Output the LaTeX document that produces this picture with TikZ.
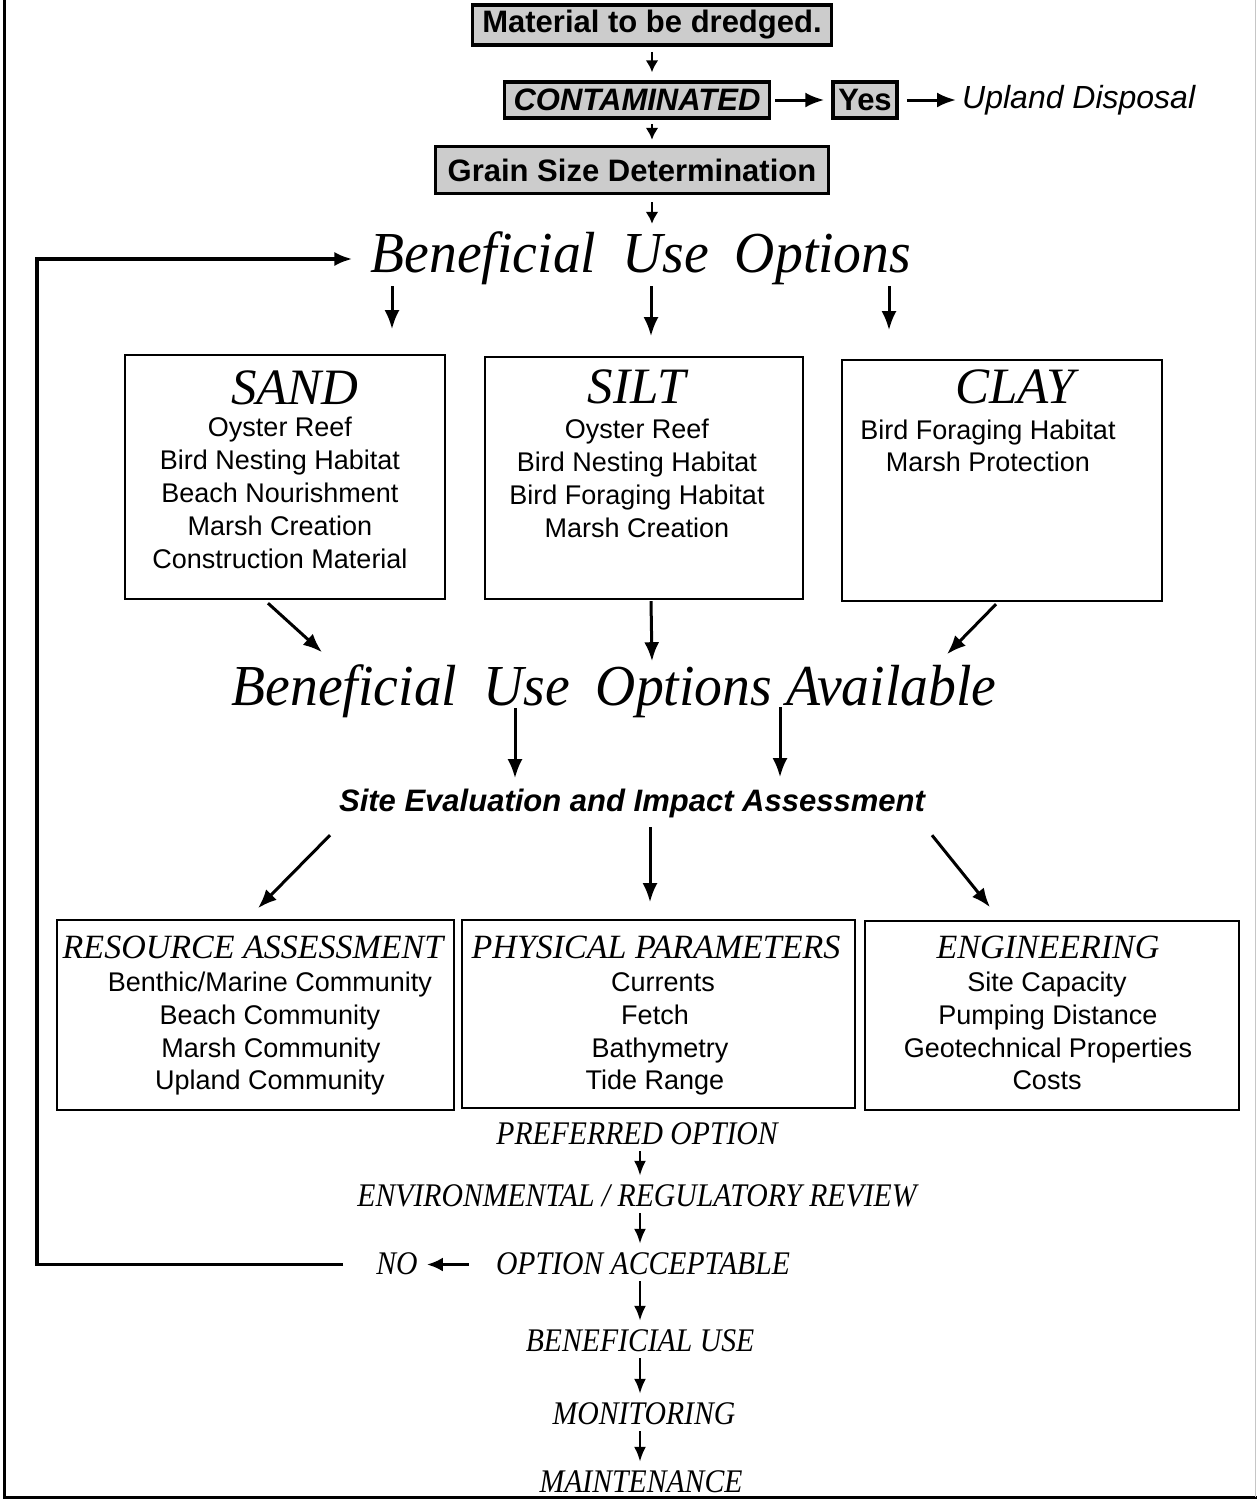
\documentclass[tikz,border=0pt]{standalone}
\usepackage{fontspec}
\setmainfont{Liberation Sans}
\newfontfamily\tserif{Liberation Serif}
\newfontfamily\cserif[FakeStretch=0.9]{Liberation Serif}
\newfontfamily\hserif[FakeStretch=0.96]{Liberation Serif}
\usetikzlibrary{arrows.meta}
\begin{document}
\begin{tikzpicture}[x=1pt,y=-1pt,
 arr/.style={line width=3pt, -{Latex[length=19pt,width=15pt]}},
 sarr/.style={line width=2.6pt, -{Latex[length=12pt,width=13pt]}},
 carr/.style={line width=2.6pt, -{Latex[length=15pt,width=12pt]}, shorten <=3pt, shorten >=7pt},
 shadebox/.style={draw, line width=3.5pt, fill=gray!40, inner sep=2pt, font=\fontsize{31}{33}\selectfont\bfseries},
 box/.style={draw, line width=2.4pt, inner sep=0pt},
 item/.style={anchor=base, inner sep=0pt, font=\fontsize{27}{33}\selectfont},
 bigt/.style={anchor=base, inner sep=0pt, font=\fontsize{51}{56}\selectfont\tserif\itshape},
 subt/.style={anchor=base, inner sep=0pt, font=\fontsize{34}{40}\selectfont\tserif\itshape},
 head/.style={anchor=base, inner sep=0pt, font=\fontsize{58}{60}\selectfont\hserif\itshape, text height=40pt, text depth=14pt},
 chain/.style={anchor=base, inner sep=0pt, font=\fontsize{33}{36}\selectfont\cserif\itshape, text height=23pt, text depth=4pt},
]
\useasboundingbox (0,0) rectangle (1257,1500);
% frame
\draw[line width=3pt] (4,0) -- (4,1497) -- (1257,1497);
\draw[gray!45, line width=1pt] (1255,0) -- (1255,1497);

% top
\node[shadebox, minimum width=359pt, minimum height=40pt] (mat) at (652,25) {Material to be dredged.};
\node[shadebox, minimum width=265pt, minimum height=36pt, font=\fontsize{31}{33}\selectfont\bfseries\itshape] (cont) at (637,100) {CONTAMINATED};
\node[shadebox, minimum width=64pt, minimum height=36pt] (yes) at (865,100) {Yes};
\node[anchor=west, inner sep=0pt, font=\fontsize{32}{34}\selectfont\itshape] (upl) at (962,100) {Upland Disposal};
\node[shadebox, minimum width=393pt, minimum height=47pt] (grain) at (632,170) {Grain Size Determination};

\draw[sarr, shorten <=5pt, shorten >=8pt] (mat.south) -- (cont.north -| mat.south);
\draw[sarr, shorten <=4pt, shorten >=5pt] (cont.south -| mat.south) -- (grain.north -| mat.south);
\draw[arr, shorten <=4pt, shorten >=7pt] (cont.east) -- (yes.west);
\draw[arr, shorten <=8pt, shorten >=6pt] (yes.east) -- (upl.west);

% beneficial use options
\node[head] (buo) at (641,272) {Beneficial\hspace{26pt}Use\hspace{26pt}Options};
\draw[sarr, shorten <=7pt, shorten >=8pt] (grain.south -| mat.south) -- (buo.north -| mat.south);

\draw[arr] ([xshift=-249pt]buo.south) -- ++(0,43);
\draw[arr] ([xshift=10pt]buo.south) -- ++(0,50);
\draw[arr] ([xshift=248pt]buo.south) -- ++(0,44);

% material boxes
\node[box, minimum width=320pt, minimum height=244pt] (sand) at (285,477) {};
\node[box, minimum width=318pt, minimum height=242pt] (silt) at (644,478) {};
\node[box, minimum width=320pt, minimum height=241pt] (clay) at (1002,480.5) {};

\node[bigt] (sandt) at (295,404) {SAND};
\foreach \t [count=\i] in {Oyster Reef, Bird Nesting Habitat, Beach Nourishment, Marsh Creation, Construction Material}
  \node[item, name=sand\i] at (280,{436+33*(\i-1)}) {\t};
\node[bigt] (siltt) at (637,403) {SILT};
\foreach \t [count=\i] in {Oyster Reef, Bird Nesting Habitat, Bird Foraging Habitat, Marsh Creation}
  \node[item, name=silt\i] at (637,{438+33*(\i-1)}) {\t};
\node[bigt] (clayt) at (1015,403) {CLAY};
\foreach \t [count=\i] in {Bird Foraging Habitat, Marsh Protection}
  \node[item, name=clay\i] at (988,{439+32*(\i-1)}) {\t};

% beneficial use options available
\node[head] (buoa) at (614,705) {Beneficial\hspace{26pt}Use\hspace{26pt}Options Available};
\draw[arr] ([xshift=-17pt, yshift=-3pt]sand.south) -- ++(54,49);
\draw[arr] ([xshift=7pt, yshift=-1pt]silt.south) -- ++(1,60);
\draw[arr] ([xshift=-6pt, yshift=-2pt]clay.south) -- ++(-49,50);

% site evaluation
\node[anchor=base, inner sep=0pt, font=\fontsize{31}{33}\selectfont\bfseries\itshape, text height=23pt, text depth=7pt] (site) at (632,811) {Site Evaluation and Impact Assessment};
\draw[arr] ([xshift=-99pt, yshift=11pt]buoa.south) -- ++(0,70);
\draw[arr] ([xshift=166pt, yshift=12pt]buoa.south) -- ++(0,70);

\draw[arr] ([xshift=-302pt, yshift=-17pt]site.south) -- ++(-72,73);
\draw[arr] ([xshift=18pt, yshift=-9pt]site.south) -- ++(0,75);
\draw[arr] ([xshift=300pt, yshift=-17pt]site.south) -- ++(58,72);

% assessment boxes
\node[box, minimum width=397pt, minimum height=190pt] (res) at (255.5,1015) {};
\node[box, minimum width=393pt, minimum height=188pt] (phy) at (658.5,1014) {};
\node[box, minimum width=374pt, minimum height=189pt] (eng) at (1052,1015.5) {};

\node[subt] (rest) at (253,958) {RESOURCE ASSESSMENT};
\node[item] (res1) at (270,991) {Benthic/Marine Community};
\node[item] (res2) at (270,1024) {Beach Community};
\node[item] (res3) at (271,1057) {Marsh Community};
\node[item] (res4) at (270,1089) {Upland Community};

\node[subt] (phyt) at (656,958) {PHYSICAL PARAMETERS};
\node[item] (phy1) at (663,991) {Currents};
\node[item] (phy2) at (655,1024) {Fetch};
\node[item] (phy3) at (660,1057) {Bathymetry};
\node[item] (phy4) at (655,1089) {Tide Range};

\node[subt] (engt) at (1048,958) {ENGINEERING};
\node[item] (eng1) at (1047,991) {Site Capacity};
\node[item] (eng2) at (1048,1024) {Pumping Distance};
\node[item] (eng3) at (1048,1057) {Geotechnical Properties};
\node[item] (eng4) at (1047,1089) {Costs};

% chain
\node[chain] (pref) at (637,1144) {PREFERRED OPTION};
\node[chain] (env) at (637,1206) {ENVIRONMENTAL / REGULATORY REVIEW};
\node[chain] (oacc) at (643,1274) {OPTION ACCEPTABLE};
\node[chain] (no) at (397,1274) {NO};
\node[chain] (benu) at (640,1351) {BENEFICIAL USE};
\node[chain] (mon) at (644,1424) {MONITORING};
\node[chain] (maint) at (641,1492) {MAINTENANCE};

\draw[carr] (pref.south -| benu) -- (env.north -| benu);
\draw[carr] (env.south -| benu) -- (oacc.north -| benu);
\draw[carr] (oacc.south -| benu) -- (benu.north);
\draw[carr] (benu.south) -- (mon.north -| benu);
\draw[carr] (mon.south -| benu) -- (maint.north -| benu);
\draw[line width=3.4pt, -{Latex[length=16pt,width=14pt]}, shorten <=27pt, shorten >=9pt] (oacc.west) -- (no.east);

% feedback loop
\coordinate (lc) at (37,1264.5);
\draw[line width=3.6pt, -{Latex[length=18pt,width=14pt]}] ([xshift=-33pt]no.west) -- (lc) |- ([xshift=-18pt]buo.west);
\end{tikzpicture}
\end{document}
